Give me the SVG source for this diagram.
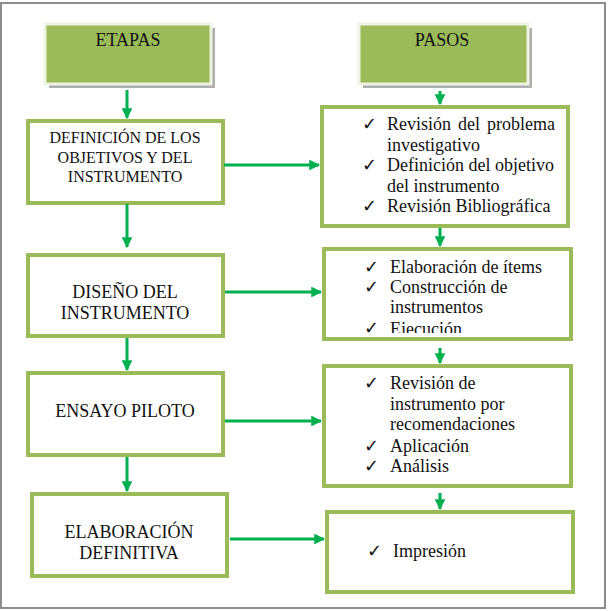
<svg xmlns="http://www.w3.org/2000/svg" width="611" height="611" viewBox="0 0 611 611">
<style>
.frame{fill:#fff;stroke:#8c8c8c;stroke-width:2}
.head{fill:#9BBB59;stroke:#eef3e4;stroke-width:3}
.shadow{fill:#9a9a9a;opacity:0.8}
.box{fill:#fff;stroke:#9BBB59;stroke-width:4}
.t{font-family:"Liberation Serif","Times New Roman",serif;fill:#111;font-size:18px}
.c{text-anchor:middle}
.s16{font-size:16px}
.ck{font-family:"DejaVu Sans",sans-serif;font-size:18px;fill:#111}
.con line{stroke:#00B050;stroke-width:3}
</style>
<defs>
<marker id="ah" viewBox="0 0 10 10" refX="9" refY="5" markerWidth="3.6" markerHeight="3.6" orient="auto" markerUnits="strokeWidth">
<path d="M0,0 L10,5 L0,10 z" fill="#00B050"/>
</marker>
<clipPath id="clip2"><rect x="323" y="248" width="249" height="85"/></clipPath>
</defs>
<rect class="frame" x="1" y="3" width="604" height="605"/>

<g id="etapas">
<rect class="shadow" x="49" y="28" width="166" height="60"/>
<rect class="head" x="45" y="24" width="166" height="60"/>
<text class="t c" x="128" y="46">ETAPAS</text>
</g>
<g id="pasos">
<rect class="shadow" x="363" y="28" width="169" height="60"/>
<rect class="head" x="359" y="24" width="169" height="60"/>
<text class="t c" x="442" y="46">PASOS</text>
</g>

<g id="definicion">
<rect class="box" x="28" y="121" width="195" height="82"/>
<text class="t c s16" x="125" y="143">DEFINICIÓN DE LOS</text>
<text class="t c s16" x="125" y="163">OBJETIVOS Y DEL</text>
<text class="t c s16" x="125" y="182">INSTRUMENTO</text>
</g>
<g id="diseno">
<rect class="box" x="28" y="255" width="195" height="81"/>
<text class="t c" x="125" y="298">DISEÑO DEL</text>
<text class="t c" x="125" y="319">INSTRUMENTO</text>
</g>
<g id="ensayo">
<rect class="box" x="28" y="373" width="195" height="82"/>
<text class="t c" x="125" y="417">ENSAYO PILOTO</text>
</g>
<g id="elaboracion">
<rect class="box" x="32" y="494" width="195" height="82"/>
<text class="t c" x="129" y="538">ELABORACIÓN</text>
<text class="t c" x="129" y="559">DEFINITIVA</text>
</g>

<g id="pasos1">
<rect class="box" x="322" y="107" width="246" height="119"/>
<text class="ck" x="362" y="130">✓</text>
<text class="t" x="387" y="130" word-spacing="2.5">Revisión del problema</text>
<text class="t" x="387" y="150.5">investigativo</text>
<text class="ck" x="362" y="171">✓</text>
<text class="t" x="387" y="171">Definición del objetivo</text>
<text class="t" x="387" y="191.5">del instrumento</text>
<text class="ck" x="362" y="212">✓</text>
<text class="t" x="387" y="212">Revisión Bibliográfica</text>
</g>
<g id="pasos2">
<rect class="box" x="324" y="249" width="247" height="90"/>
<g clip-path="url(#clip2)">
<text class="ck" x="364" y="273">✓</text>
<text class="t" x="390" y="273">Elaboración de ítems</text>
<text class="ck" x="364" y="293">✓</text>
<text class="t" x="390" y="293">Construcción de</text>
<text class="t" x="390" y="313">instrumentos</text>
<text class="ck" x="364" y="334">✓</text>
<text class="t" x="390" y="335">Ejecución</text>
</g>
</g>
<g id="pasos3">
<rect class="box" x="324" y="366" width="247" height="120"/>
<text class="ck" x="364" y="389">✓</text>
<text class="t" x="390" y="389">Revisión de</text>
<text class="t" x="390" y="410">instrumento por</text>
<text class="t" x="390" y="430">recomendaciones</text>
<text class="ck" x="364" y="452">✓</text>
<text class="t" x="390" y="452">Aplicación</text>
<text class="ck" x="364" y="472">✓</text>
<text class="t" x="390" y="472">Análisis</text>
</g>
<g id="pasos4">
<rect class="box" x="327" y="512" width="246" height="80"/>
<text class="ck" x="367" y="557">✓</text>
<text class="t" x="393" y="557">Impresión</text>
</g>

<g class="con" id="connectors">
<line x1="127" y1="90" x2="127" y2="118" marker-end="url(#ah)"/>
<line x1="440" y1="91" x2="440" y2="104" marker-end="url(#ah)"/>
<line x1="224" y1="165" x2="319" y2="165" marker-end="url(#ah)"/>
<line x1="127" y1="204" x2="127" y2="247" marker-end="url(#ah)"/>
<line x1="440" y1="228" x2="440" y2="246" marker-end="url(#ah)"/>
<line x1="225" y1="292" x2="321" y2="292" marker-end="url(#ah)"/>
<line x1="127" y1="338" x2="127" y2="370" marker-end="url(#ah)"/>
<line x1="440" y1="348" x2="440" y2="363" marker-end="url(#ah)"/>
<line x1="225" y1="421" x2="321" y2="421" marker-end="url(#ah)"/>
<line x1="127" y1="457" x2="127" y2="491" marker-end="url(#ah)"/>
<line x1="440" y1="493" x2="440" y2="509" marker-end="url(#ah)"/>
<line x1="230" y1="539" x2="324" y2="539" marker-end="url(#ah)"/>
</g>
</svg>
